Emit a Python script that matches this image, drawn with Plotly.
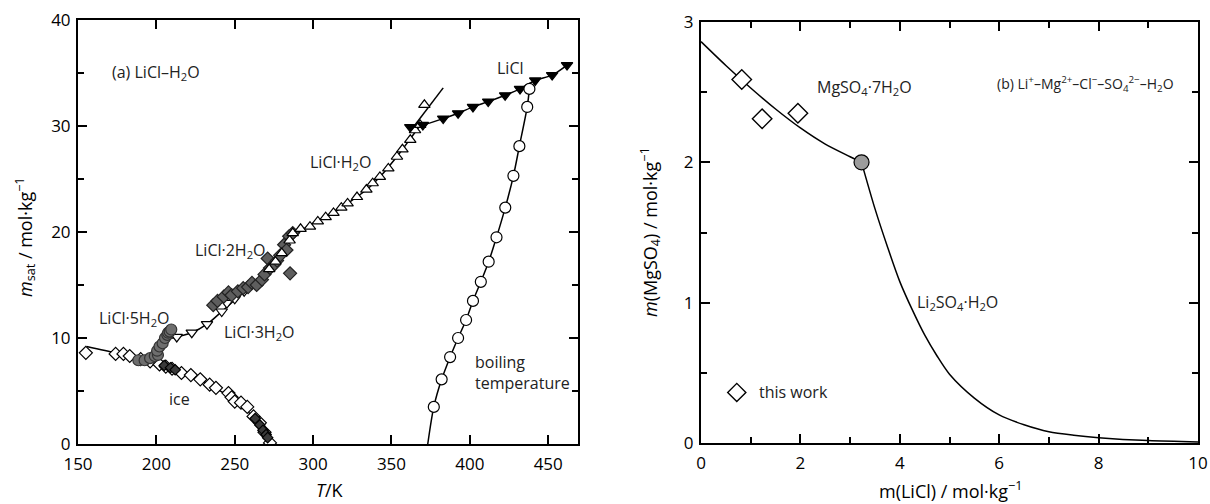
import plotly.graph_objects as go

# ---------------- (a) LiCl–H2O solubility data ----------------
ice_T = [155, 174, 179, 183, 190, 196, 202, 206, 210, 216, 222, 228, 234, 238,
         246, 248, 250, 254, 258, 262, 266, 269, 272.5]
ice_m = [8.6, 8.5, 8.5, 8.3, 8.0, 7.8, 7.5, 7.3, 7.1, 6.7, 6.5, 6.1, 5.6, 5.3,
         4.8, 4.4, 4.0, 3.9, 3.5, 2.6, 2.0, 1.1, 0.1]
ice_fit_T = [155.5, 174, 185, 195, 205, 215, 225, 235, 245, 255, 262, 268, 273.15]
ice_fit_m = [9.2, 8.6, 8.2, 7.9, 7.4, 6.9, 6.3, 5.5, 4.6, 3.5, 2.5, 1.4, 0.0]
ice_lit_T = [205, 209, 212, 263, 266, 268, 270, 271]
ice_lit_m = [7.4, 7.2, 7.0, 2.4, 1.8, 1.3, 0.9, 0.6]

penta_T = [188.5, 192.5, 196, 199, 201, 200.5, 202, 204, 205.5, 207, 207.5, 208.5, 209.5]
penta_m = [7.9, 7.9, 8.1, 8.3, 8.4, 8.8, 9.2, 9.5, 10.0, 10.3, 10.5, 10.6, 10.8]
penta_fit_T = [197, 201, 205, 209]
penta_fit_m = [8.0, 8.8, 9.8, 10.7]

tri_T = [207, 213, 222.6, 232.3, 241.7, 245, 250, 256]
tri_m = [10.0, 10.1, 10.5, 11.3, 12.5, 13.3, 13.7, 14.4]
tri_fit_T = [204, 213, 222.6, 232.3, 241.7, 250, 256]
tri_fit_m = [9.8, 10.1, 10.5, 11.3, 12.5, 13.6, 14.3]

di_T = [236.3, 239, 243, 246, 248, 252, 255.4, 258.5, 261, 264, 267.4, 269, 271,
        272.5, 275, 277, 279, 281.5, 283, 284.7, 285.3, 287]
di_m = [13.1, 13.5, 13.9, 14.3, 14.05, 14.4, 14.7, 14.8, 15.2, 15.0, 15.5, 16.0,
        17.5, 16.6, 16.9, 17.3, 17.8, 18.8, 18.3, 19.6, 16.1, 19.9]
di_fit_T = [236, 245, 255, 265, 275, 285, 292]
di_fit_m = [13.0, 13.9, 14.7, 15.6, 17.0, 19.0, 20.1]

mono_T = [272, 276, 280, 285, 287, 292, 298, 303, 308, 313, 318, 322, 328, 334,
          338, 342.6, 348, 353.5, 357, 362, 365, 368.3, 371]
mono_m = [16.5, 17.2, 18.0, 19.2, 19.9, 20.3, 20.5, 21.0, 21.4, 21.8, 22.3, 22.7,
          23.3, 24.0, 24.6, 25.2, 26.0, 27.1, 27.8, 28.7, 29.6, 30.1, 32.0]
mono_fit_T = [285, 295, 305, 315, 325, 335, 345, 355, 362, 368]
mono_fit_m = [19.3, 20.4, 21.2, 22.0, 23.0, 24.1, 25.6, 27.4, 28.8, 30.0]
meta_T = [364, 383]
meta_m = [29.9, 33.6]

anh_T = [362, 370, 383, 392.5, 402, 411.7, 422.5, 432, 441.7, 452.5, 462]
anh_m = [29.9, 30.1, 30.7, 31.2, 31.8, 32.3, 32.9, 33.5, 34.3, 34.8, 35.75]

boil_T = [377, 382, 387.4, 392.5, 397.6, 402, 407, 412, 417, 422.6, 427.8, 431.6, 436.6, 438]
boil_m = [3.5, 6.1, 8.2, 10.0, 11.7, 13.5, 15.3, 17.2, 19.5, 22.3, 25.3, 28.1, 31.8, 33.5]
boil_start_T = [373.15]
boil_start_m = [0.0]

# ---------------- (b) Li+–Mg2+–Cl−–SO4 2−–H2O data ----------------
work_x = [0.82, 1.23, 1.95]
work_y = [2.59, 2.31, 2.35]
mg_x = [0, 0.5, 1.0, 1.5, 2.0, 2.5, 3.0, 3.23]
mg_y = [2.86, 2.69, 2.53, 2.38, 2.245, 2.13, 2.04, 2.0]
li_x = [3.23, 3.5, 3.75, 4.0, 4.25, 4.5, 4.75, 5.0, 5.5, 6.0, 6.5, 7.0, 7.5, 8.0, 9.0, 10.0]
li_y = [2.0, 1.67, 1.40, 1.15, 0.95, 0.77, 0.62, 0.49, 0.32, 0.2, 0.13, 0.08, 0.055,
        0.038, 0.017, 0.008]
inv_x = [3.23]
inv_y = [2.0]
x_ticks_b = [0, 2, 4, 6, 8, 10]
y_ticks_b = [0, 1, 2, 3]
x_ticks_a = [150, 200, 250, 300, 350, 400, 450]
y_ticks_a = [0, 10, 20, 30, 40]

FONT = "Open Sans"
W, H = 1210, 504

fig = go.Figure()


def line(x, y, xa="x", ya="y", shape="spline", width=1.5):
    fig.add_trace(go.Scatter(x=x, y=y, mode="lines", xaxis=xa, yaxis=ya,
                             line=dict(color="black", width=width, shape=shape,
                                       smoothing=0.8),
                             showlegend=False, hoverinfo="skip"))


def marks(x, y, symbol, fill, size, xa="x", ya="y", lw=1.2, lc="black"):
    fig.add_trace(go.Scatter(x=x, y=y, mode="markers", xaxis=xa, yaxis=ya,
                             marker=dict(symbol=symbol, color=fill, size=size,
                                         line=dict(color=lc, width=lw)),
                             showlegend=False))


# panel (a) curves
line(ice_fit_T, ice_fit_m)
line(penta_fit_T, penta_fit_m)
line(tri_fit_T, tri_fit_m)
line(di_fit_T, di_fit_m)
line(mono_fit_T, mono_fit_m)
line(meta_T, meta_m, shape="linear")
line(anh_T, anh_m)
line(boil_start_T + boil_T, boil_start_m + boil_m)

# panel (a) markers
marks(ice_T, ice_m, "diamond", "white", 10)
marks(ice_lit_T, ice_lit_m, "diamond", "#3a3a3a", 8)
marks(tri_T, tri_m, "triangle-down", "white", 10)
marks(di_T, di_m, "diamond", "#5e5e5e", 10, lc="#222")
marks(penta_T, penta_m, "circle", "#6e6e6e", 11, lc="#333")
marks(mono_T, mono_m, "triangle-up", "white", 10)
marks(anh_T, anh_m, "triangle-down", "black", 10)
marks(boil_T, boil_m, "circle", "white", 11)

# panel (b)
line(mg_x, mg_y, "x2", "y2")
line(li_x, li_y, "x2", "y2")
marks(work_x, work_y, "diamond", "white", 15, "x2", "y2", lw=1.4)
marks(inv_x, inv_y, "circle", "#9c9c9c", 15, "x2", "y2", lw=1.2)
marks([0.72], [0.36], "diamond", "white", 14, "x2", "y2", lw=1.4)

axis_common = dict(showline=True, linecolor="black", linewidth=2, mirror="ticks",
                   ticks="inside", ticklen=9, tickwidth=2, tickcolor="black",
                   showgrid=False, zeroline=False, automargin=False,
                   tickfont=dict(family=FONT, size=17, color="black"))

fig.update_layout(
    width=W, height=H,
    margin=dict(l=0, r=0, t=0, b=0, pad=0, autoexpand=False),
    paper_bgcolor="white", plot_bgcolor="white",
    font=dict(family=FONT, size=16, color="black"),
    xaxis=dict(axis_common, domain=[78 / W, 578 / W], range=[150, 469],
               tickvals=x_ticks_a, anchor="y", ticklabelstandoff=4),
    yaxis=dict(axis_common, domain=[1 - 444 / H, 1 - 20 / H], range=[0, 40],
               tickvals=y_ticks_a, anchor="x", ticklabelstandoff=2,
               minor=dict(ticks="inside", dtick=5, ticklen=6, tickwidth=2,
                          tickcolor="black")),
    xaxis2=dict(axis_common, domain=[701 / W, 1198 / W], range=[0, 10],
                tickvals=x_ticks_b, anchor="y2", ticklabelstandoff=4,
                minor=dict(ticks="inside", dtick=1, ticklen=6, tickwidth=2,
                           tickcolor="black")),
    yaxis2=dict(axis_common, domain=[1 - 443 / H, 1 - 22 / H], range=[0, 3],
                tickvals=y_ticks_b, anchor="x2", ticklabelstandoff=2,
                minor=dict(ticks="inside", dtick=0.5, ticklen=6, tickwidth=2,
                           tickcolor="black")),
)


def note(text, x, y, xa="x", ya="y", xanchor="left", size=16, **kw):
    fig.add_annotation(text=text, x=x, y=y, xref=xa, yref=ya, xanchor=xanchor,
                       yanchor="middle", showarrow=False,
                       font=dict(family=FONT, size=size, color="#222"), **kw)


SUB = lambda s: f"<sub>{s}</sub>"
SUP = lambda s: f"<sup>{s}</sup>"
note("(a) LiCl–H" + SUB("2") + "O", 170.4, 35)
note("LiCl", 416, 35.5)
note("LiCl·H" + SUB("2") + "O", 296.8, 26.6)
note("LiCl·2H" + SUB("2") + "O", 223.4, 18.3)
note("LiCl·5H" + SUB("2") + "O", 162, 11.8)
note("LiCl·3H" + SUB("2") + "O", 242, 10.5)
note("ice", 206.8, 4.2)
note("boiling<br>temperature", 402, 6.7, align="left")

note("MgSO" + SUB("4") + "·7H" + SUB("2") + "O", 2.29, 2.53, "x2", "y2")
note("(b) Li" + SUP("+") + "–Mg" + SUP("2+") + "–Cl" + SUP("−") + "–SO" + SUB("4")
     + SUP("2−") + "–H" + SUB("2") + "O",
     9.55, 2.56, "x2", "y2", xanchor="right", size=14)
note("Li" + SUB("2") + "SO" + SUB("4") + "·H" + SUB("2") + "O", 4.3, 1.0, "x2", "y2")
note("this work", 1.13, 0.36, "x2", "y2")


def title(text, px, py, angle=0):
    fig.add_annotation(text=text, x=px / W, y=1 - py / H, xref="paper", yref="paper",
                       xanchor="center", yanchor="middle", textangle=angle,
                       showarrow=False, font=dict(family=FONT, size=18, color="black"))


title("<i>m</i><sub>sat</sub> / mol·kg<sup>−1</sup>", 25, 237, -90)
title("<i>T</i>/K", 330, 490)
title("<i>m</i>(MgSO<sub>4</sub>) / mol·kg<sup>−1</sup>", 650, 232, -90)
title("m(LiCl) / mol·kg<sup>−1</sup>", 950, 490)

fig.write_html("out.html")
